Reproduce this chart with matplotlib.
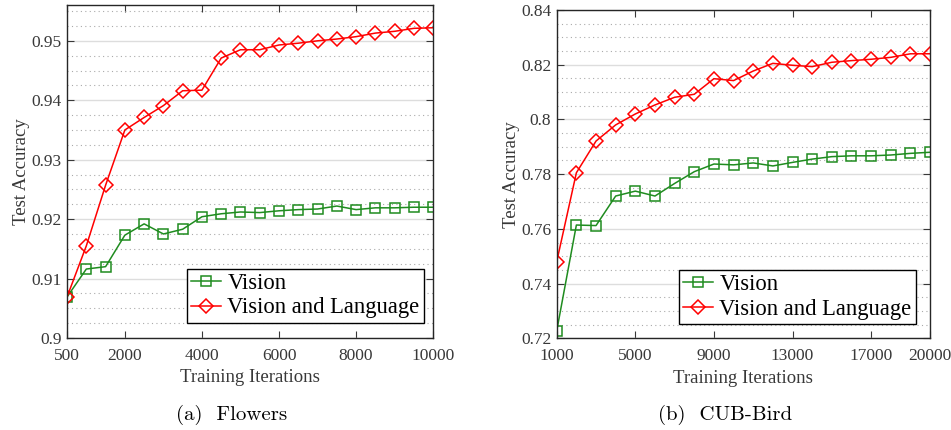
import matplotlib.pyplot as plt
from matplotlib.ticker import MultipleLocator
import numpy as np

# Flowers
flowers_iters = [500, 1000, 1500, 2000, 2500, 3000, 3500, 4000, 4500, 5000,
                 5500, 6000, 6500, 7000, 7500, 8000, 8500, 9000, 9500, 10000]
flowers_vision = [0.9069, 0.9116, 0.9120, 0.9173, 0.9192, 0.9175, 0.9183, 0.9204, 0.9209, 0.9212,
                  0.9211, 0.9214, 0.9216, 0.9217, 0.9222, 0.9216, 0.9219, 0.9219, 0.9220, 0.9220]
flowers_vl = [0.9069, 0.9155, 0.9257, 0.9350, 0.9371, 0.9391, 0.9416, 0.9417, 0.9471, 0.9485,
              0.9485, 0.9493, 0.9496, 0.9500, 0.9503, 0.9507, 0.9513, 0.9516, 0.9521, 0.9522]
flowers_xticks = [500, 2000, 4000, 6000, 8000, 10000]

# CUB-Bird
bird_iters = list(range(1000, 20001, 1000))
bird_vision = [0.7227, 0.7614, 0.7612, 0.7720, 0.7738, 0.7720, 0.7766, 0.7809, 0.7837, 0.7834,
               0.7841, 0.7830, 0.7843, 0.7855, 0.7864, 0.7867, 0.7867, 0.7870, 0.7876, 0.7880]
bird_vl = [0.7480, 0.7805, 0.7921, 0.7980, 0.8020, 0.8053, 0.8081, 0.8092, 0.8149, 0.8142,
           0.8177, 0.8205, 0.8198, 0.8193, 0.8209, 0.8215, 0.8220, 0.8227, 0.8240, 0.8240]
bird_xticks = [1000, 5000, 9000, 13000, 17000, 20000]

GREEN = '#1f8c1f'
RED = '#ff0000'
TXT = '#383838'

plt.rcParams['font.family'] = ['Liberation Serif', 'DejaVu Serif']


def fmt(v):
    return ('%.2f' % v).rstrip('0').rstrip('.')


def draw(ax, x, vis, vl, xticks, ylim, yticks, legend_anchor):
    ax.plot(x, vis, color=GREEN, marker='s', markersize=6.5, markerfacecolor='none',
            markeredgewidth=1.1, linewidth=1.1, label='Vision')
    ax.plot(x, vl, color=RED, marker='D', markersize=7, markerfacecolor='none',
            markeredgewidth=1.1, linewidth=1.1, label='Vision and Language')
    ax.set_xlim(x[0], x[-1])
    ax.set_ylim(*ylim)
    ax.set_xticks(xticks)
    ax.set_xticklabels([str(t) for t in xticks])
    ax.set_yticks(yticks)
    ax.set_yticklabels([fmt(v) for v in yticks])
    ax.yaxis.set_minor_locator(MultipleLocator((yticks[1] - yticks[0]) / 4))
    ax.grid(True, which='major', axis='y', color='#dddddd', linewidth=1.0, linestyle='-')
    ax.grid(True, which='minor', axis='y', color='#aaaaaa', linewidth=0.8, linestyle=(0, (1, 3)))
    ax.tick_params(which='major', direction='in', top=True, right=True, length=5,
                   labelsize=12.5, colors=TXT, width=0.8)
    ax.tick_params(axis='x', which='major', pad=7)
    ax.tick_params(axis='y', which='major', pad=4)
    ax.tick_params(which='minor', left=False, right=False)
    for s in ax.spines.values():
        s.set_color('#262626')
        s.set_linewidth(1.0)
    ax.set_xlabel('Training Iterations', fontsize=13.5, color=TXT, labelpad=4)
    ax.set_ylabel('Test Accuracy', fontsize=13.5, color=TXT, labelpad=1)
    leg = ax.legend(loc='lower right', bbox_to_anchor=legend_anchor, borderaxespad=0,
                    fontsize=16.3, handlelength=1.3, handletextpad=0.3, borderpad=0.2,
                    labelspacing=0.15, fancybox=False, framealpha=1)
    leg.get_frame().set_edgecolor('black')
    leg.get_frame().set_linewidth(1.0)


fig = plt.figure(figsize=(9.51, 4.30), dpi=100)
ax1 = fig.add_axes([0.0705, 0.214, 0.385, 0.774])
ax2 = fig.add_axes([0.5854, 0.2133, 0.3926, 0.7634])

draw(ax1, flowers_iters, flowers_vision, flowers_vl, flowers_xticks, (0.9, 0.956),
     np.arange(0.9, 0.9501, 0.01), (0.975, 0.045))
draw(ax2, bird_iters, bird_vision, bird_vl, bird_xticks, (0.72, 0.84),
     np.arange(0.72, 0.8401, 0.02), (0.9625, 0.043))

fig.text(0.244, 0.035, '(a)  Flowers', ha='center', va='center', fontsize=15, family='cmr10')
fig.text(0.762, 0.035, '(b)  CUB-Bird', ha='center', va='center', fontsize=15, family='cmr10')

fig.savefig('out.png', dpi=100)
